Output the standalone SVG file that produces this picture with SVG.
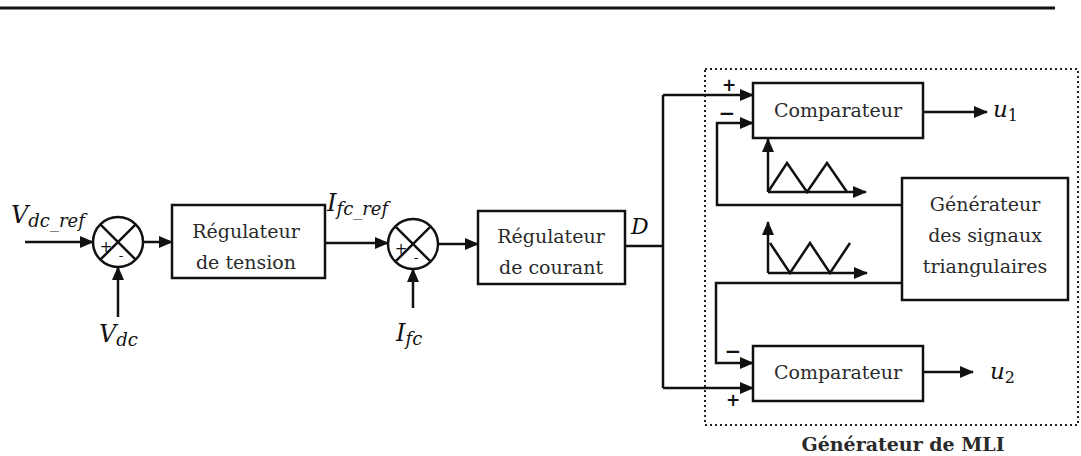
<svg xmlns="http://www.w3.org/2000/svg" width="1081" height="456" viewBox="0 0 1081 456">
<style>
.ln{fill:none;stroke:#111;stroke-width:2.5}
.bx{fill:#fff;stroke:#111;stroke-width:2.5}
.t{font-family:"DejaVu Serif","Liberation Serif",serif;font-size:19px;fill:#2a2a2a;text-anchor:middle}
.m{font-family:"DejaVu Serif","Liberation Serif",serif;font-style:italic;fill:#111}
.s{font-family:"DejaVu Sans","Liberation Sans",sans-serif;fill:#111;text-anchor:middle}
</style>
<defs>
<marker id="ar" markerWidth="14" markerHeight="12" refX="13" refY="6" orient="auto" markerUnits="userSpaceOnUse">
<path d="M0,0 L14,6 L0,12 Z" fill="#111"/>
</marker>
</defs>
<line x1="0" y1="8" x2="1055" y2="8" stroke="#111" stroke-width="3"/>
<rect x="705" y="69" width="373" height="356" fill="none" stroke="#222" stroke-width="2" stroke-dasharray="2 3"/>

<g id="sum1">
<circle cx="118" cy="242" r="25" class="bx"/>
<path d="M100.3,224.3 L135.7,259.7 M135.7,224.3 L100.3,259.7" class="ln" stroke-width="2"/>
<text x="106" y="252" class="s" font-size="15">+</text>
<text x="121" y="260" class="s" font-size="13">-</text>
</g>
<g id="reg_tension">
<rect x="172" y="205" width="153" height="73" class="bx"/>
<text x="246" y="238" class="t">Régulateur</text>
<text x="246" y="269" class="t">de tension</text>
</g>
<g id="sum2">
<circle cx="413" cy="244" r="25" class="bx"/>
<path d="M395.3,226.3 L430.7,261.7 M430.7,226.3 L395.3,261.7" class="ln" stroke-width="2"/>
<text x="401" y="254" class="s" font-size="15">+</text>
<text x="416" y="262" class="s" font-size="13">-</text>
</g>
<g id="reg_courant">
<rect x="478" y="211" width="147" height="73" class="bx"/>
<text x="551" y="243" class="t">Régulateur</text>
<text x="551" y="274" class="t">de courant</text>
</g>
<g id="comp1">
<rect x="753" y="83" width="170" height="55" class="bx"/>
<text x="838" y="117" class="t">Comparateur</text>
</g>
<g id="comp2">
<rect x="753" y="346" width="170" height="55" class="bx"/>
<text x="838" y="379" class="t">Comparateur</text>
</g>
<g id="generateur">
<rect x="902" y="178" width="166" height="122" class="bx"/>
<text x="985" y="211" class="t">Générateur</text>
<text x="985" y="242" class="t">des signaux</text>
<text x="985" y="273" class="t">triangulaires</text>
</g>

<g id="connectors">
<path d="M25,242 H93" class="ln" marker-end="url(#ar)"/>
<path d="M143,242 H172" class="ln" marker-end="url(#ar)"/>
<path d="M118,317 V267" class="ln" marker-end="url(#ar)"/>
<path d="M325,243 H388" class="ln" marker-end="url(#ar)"/>
<path d="M413,308 V269" class="ln" marker-end="url(#ar)"/>
<path d="M438,244 H478" class="ln" marker-end="url(#ar)"/>
<path d="M625,246 H663" class="ln"/>
<path d="M663,95 V388" class="ln"/>
<path d="M663,95 H753" class="ln" marker-end="url(#ar)"/>
<path d="M663,388 H753" class="ln" marker-end="url(#ar)"/>
<path d="M902,205 H717 V123 H753" class="ln" marker-end="url(#ar)"/>
<path d="M902,283 H716 V363 H753" class="ln" marker-end="url(#ar)"/>
<path d="M923,112 H987" class="ln" marker-end="url(#ar)"/>
<path d="M923,372 H973" class="ln" marker-end="url(#ar)"/>
<path d="M768,192 V139" class="ln" marker-end="url(#ar)"/>
<path d="M768,192 H866" class="ln" marker-end="url(#ar)"/>
<path d="M768,192 L787,163 L807,192 L827,163 L847,192" class="ln"/>
<path d="M768,273 V222" class="ln" marker-end="url(#ar)"/>
<path d="M768,273 H867" class="ln" marker-end="url(#ar)"/>
<path d="M770,243 L790,273 L810,243 L830,273 L850,243" class="ln"/>
</g>

<g id="labels">
<text x="11" y="223" class="m" font-size="24">V<tspan font-size="18" dy="4">dc_ref</tspan></text>
<text x="99" y="342" class="m" font-size="24">V<tspan font-size="18" dy="4">dc</tspan></text>
<text x="327" y="211" class="m" font-size="24">I<tspan font-size="18" dy="4">fc_ref</tspan></text>
<text x="396" y="341" class="m" font-size="24">I<tspan font-size="18" dy="4">fc</tspan></text>
<text x="631" y="234" class="m" font-size="22">D</text>
<text x="993" y="117" class="m" font-size="23">u<tspan font-style="normal" font-size="16" dy="4">1</tspan></text>
<text x="990" y="379" class="m" font-size="23">u<tspan font-style="normal" font-size="16" dy="4">2</tspan></text>
<text x="729" y="91" class="s" font-size="17" font-weight="bold">+</text>
<text x="727" y="120" class="s" font-size="20" font-weight="bold">−</text>
<text x="733" y="358" class="s" font-size="20" font-weight="bold">−</text>
<text x="733" y="406" class="s" font-size="17" font-weight="bold">+</text>
<text x="903" y="451" class="t" font-weight="bold" fill="#111" font-size="16">Générateur de MLI</text>
</g>
</svg>
